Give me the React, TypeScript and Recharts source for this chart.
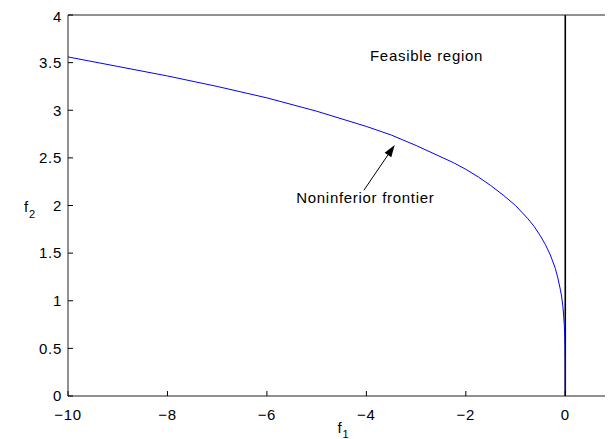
import React from 'react';
import { LineChart, Line, XAxis, YAxis, ReferenceLine, ReferenceDot } from 'recharts';

// Noninferior frontier (f1, f2)
const frontierF1 = [-10, -9, -8, -7, -6, -5, -4, -3.5, -3, -2.5, -2.25, -2, -1.75, -1.5, -1.25, -1, -0.875, -0.75, -0.625, -0.5, -0.4, -0.3, -0.2, -0.15, -0.1, -0.075, -0.05, -0.035, -0.02, -0.01, -0.005, -0.001, 0];
const frontierF2 = [3.56, 3.46, 3.36, 3.25, 3.13, 2.99, 2.83, 2.74, 2.63, 2.51, 2.45, 2.38, 2.30, 2.21, 2.11, 2.0, 1.93, 1.86, 1.78, 1.68, 1.59, 1.48, 1.34, 1.24, 1.12, 1.05, 0.95, 0.86, 0.75, 0.63, 0.53, 0.36, 0];

// Vertical boundary f1 = 0
const boundaryF1 = [0, 0];
const boundaryF2 = [0, 4];

const xTicks = [-10, -8, -6, -4, -2, 0];
const yTicks = [0, 0.5, 1, 1.5, 2, 2.5, 3, 3.5, 4];
const xDomain = [-10, 1];
const yDomain = [0, 4];

const feasibleLabel = { text: 'Feasible region', f1: -2.79, f2: 3.517 };
const frontierLabel = { text: 'Noninferior frontier', f1: -4.02, f2: 2.023 };
const arrowTail = { f1: -4.05, f2: 2.16 };
const arrowHead = { f1: -3.43, f2: 2.635 };

const frontierData = frontierF1.map((x, i) => ({ x, y: frontierF2[i] }));
const boundaryData = boundaryF1.map((x, i) => ({ x, y: boundaryF2[i] }));

const FONT = '"Liberation Sans", Arial, Helvetica, sans-serif';
const textStyle = { fontFamily: FONT, fontSize: 15, fill: '#000', letterSpacing: '0.7px' };

const fmtMinus = (v: number) => String(v).replace('-', '\u2212');

const Arrow = (props: any) => {
  const { x1, y1, x2, y2 } = props;
  const ang = Math.atan2(y2 - y1, x2 - x1);
  const L = 12;
  const W = 4;
  const bx = x2 - L * Math.cos(ang);
  const by = y2 - L * Math.sin(ang);
  const px = -Math.sin(ang) * W;
  const py = Math.cos(ang) * W;
  return (
    <g>
      <line x1={x1} y1={y1} x2={bx} y2={by} stroke="#000" strokeWidth={1} />
      <polygon points={`${x2},${y2} ${bx + px},${by + py} ${bx - px},${by - py}`} fill="#000" />
    </g>
  );
};

const TextDot = (text: string) => (p: any) => (
  <text x={p.cx} y={p.cy} textAnchor="middle" style={textStyle}>
    {text}
  </text>
);

export default function App() {
  return (
    <div style={{ width: 605, height: 431, overflow: 'hidden' }}>
      <LineChart
        width={620}
        height={431}
        margin={{ top: 6, right: 12, bottom: 13, left: 0 }}
      >
        <XAxis
          dataKey="x"
          type="number"
          domain={xDomain}
          ticks={xTicks}
          allowDataOverflow
          height={30}
          tickSize={-5}
          tickMargin={18}
          tickFormatter={fmtMinus}
          stroke="#000"
          tick={{ ...textStyle, fill: '#000' }}
          axisLine={{ stroke: '#222' }}
          tickLine={{ stroke: '#000' }}
          label={(p: any) => {
            const vb = p.viewBox;
            return (
              <text x={vb.x + vb.width / 2 - 4} y={vb.y + 37} style={textStyle}>
                f<tspan dy={5} fontSize={11}>1</tspan>
              </text>
            );
          }}
        />
        <XAxis
          xAxisId="top"
          orientation="top"
          dataKey="x"
          type="number"
          domain={xDomain}
          ticks={xTicks}
          allowDataOverflow
          height={1}
          tickSize={-5}
          tick={false}
          axisLine={{ stroke: '#222' }}
          tickLine={{ stroke: '#000' }}
        />
        <YAxis
          type="number"
          domain={yDomain}
          ticks={yTicks}
          allowDataOverflow
          width={60}
          tickSize={-5}
          tickMargin={11}
          stroke="#000"
          tick={{ ...textStyle, fill: '#000' }}
          axisLine={{ stroke: '#222' }}
          tickLine={{ stroke: '#000' }}
          label={(p: any) => {
            const vb = p.viewBox;
            return (
              <text x={vb.x + 16} y={vb.y + vb.height / 2 + 6} style={textStyle}>
                f<tspan dy={6} fontSize={11}>2</tspan>
              </text>
            );
          }}
        />
        <YAxis
          yAxisId="right"
          orientation="right"
          type="number"
          domain={yDomain}
          ticks={yTicks}
          allowDataOverflow
          width={1}
          tickSize={-5}
          tick={false}
          axisLine={{ stroke: '#222' }}
          tickLine={{ stroke: '#000' }}
        />
        <Line
          xAxisId="top"
          yAxisId="right"
          data={boundaryData}
          dataKey="y"
          type="linear"
          stroke="none"
          dot={false}
          isAnimationActive={false}
        />
        <Line
          data={boundaryData}
          dataKey="y"
          type="linear"
          stroke="#000"
          strokeWidth={1.6}
          dot={false}
          isAnimationActive={false}
        />
        <Line
          data={frontierData}
          dataKey="y"
          type="linear"
          stroke="#0000ff"
          strokeWidth={1}
          dot={false}
          isAnimationActive={false}
        />
        <ReferenceLine
          segment={[
            { x: arrowTail.f1, y: arrowTail.f2 },
            { x: arrowHead.f1, y: arrowHead.f2 },
          ]}
          shape={Arrow}
        />
        <ReferenceDot x={feasibleLabel.f1} y={feasibleLabel.f2} r={0} shape={TextDot(feasibleLabel.text)} />
        <ReferenceDot x={frontierLabel.f1} y={frontierLabel.f2} r={0} shape={TextDot(frontierLabel.text)} />
      </LineChart>
    </div>
  );
}
